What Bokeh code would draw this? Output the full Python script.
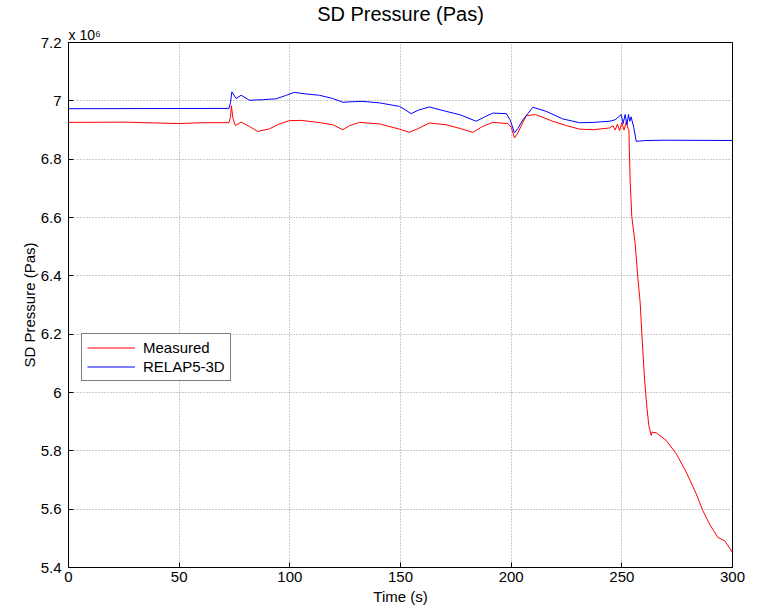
from bokeh.plotting import figure
from bokeh.models import Legend, LegendItem, CustomJSTickFormatter, FixedTicker, Title
from bokeh.embed import file_html
from bokeh.resources import INLINE

# Time (s)
blue_t = [0, 72.5, 73.2, 73.8, 75.7, 78, 81.8, 88, 93.8, 98, 102, 107, 113.4, 119.4, 124, 128, 133,
          140.5, 149.5, 152, 154.8, 158, 163, 170.6, 177, 184.2, 188, 191.7, 197.8, 199.5, 201.5, 203,
          205.3, 209.8, 215.8, 223.3, 230.9, 236.9, 244.4, 247, 248.5, 249.7, 250.6, 251.5, 252.3, 253,
          253.6, 254.2, 255.4, 256.5, 258, 261, 270, 300]
# RELAP5-3D pressure (x 10^6 Pa)
blue_v = [6.973, 6.974, 6.995, 7.031, 7.008, 7.019, 7.002, 7.004, 7.007, 7.018, 7.029, 7.024, 7.019,
          7.008, 6.995, 6.997, 6.998, 6.993, 6.981, 6.970, 6.956, 6.968, 6.979, 6.964, 6.952, 6.930,
          6.945, 6.958, 6.956, 6.935, 6.890, 6.905, 6.935, 6.978, 6.964, 6.938, 6.925, 6.926, 6.930,
          6.935, 6.945, 6.953, 6.922, 6.953, 6.918, 6.953, 6.930, 6.945, 6.908, 6.861, 6.862, 6.864,
          6.865, 6.864]

red_t = [0, 25, 50, 60, 72.5, 73.2, 73.6, 74.3, 75.4, 78, 81.8, 85.5, 90.8, 95, 99.8, 105, 111.9,
         119.4, 124, 127, 131.5, 140.5, 149.5, 154, 158, 163, 170.6, 177, 182.7, 187, 191.7, 198.5,
         200, 201.5, 203, 206.8, 211, 218.8, 225, 230.9, 236.9, 244.4, 246, 247, 248, 249, 250, 251,
         252, 252.8, 253.2, 253.4, 253.8, 254.5, 256, 257.2, 258.3, 259.2, 260.2, 261.3, 262.2, 263.3,
         263.6, 265.5, 270, 274.6, 279.1, 283.6, 286.6, 289.6, 293.4, 296.4, 300]
# Measured pressure (x 10^6 Pa)
red_v = [6.926, 6.927, 6.922, 6.925, 6.925, 6.945, 6.983, 6.940, 6.915, 6.927, 6.912, 6.895, 6.904,
         6.920, 6.932, 6.933, 6.927, 6.918, 6.901, 6.915, 6.926, 6.921, 6.903, 6.892, 6.905, 6.924,
         6.918, 6.905, 6.892, 6.912, 6.926, 6.922, 6.910, 6.873, 6.890, 6.949, 6.953, 6.930, 6.915,
         6.903, 6.901, 6.907, 6.915, 6.900, 6.920, 6.898, 6.925, 6.900, 6.928, 6.905, 6.900, 6.832,
         6.718, 6.603, 6.512, 6.397, 6.306, 6.179, 6.053, 5.950, 5.887, 5.853, 5.864, 5.862, 5.836,
         5.790, 5.727, 5.653, 5.595, 5.549, 5.503, 5.492, 5.452]

x_ticks = [0, 50, 100, 150, 200, 250, 300]
y_ticks = [5.4, 5.6, 5.8, 6.0, 6.2, 6.4, 6.6, 6.8, 7.0, 7.2]

FONT = "Liberation Sans"

p = figure(width=753, height=608, output_backend="svg", toolbar_location=None,
           x_range=(0, 300), y_range=(5.4, 7.2),
           title="SD Pressure (Pas)",
           min_border_left=68, min_border_right=21, min_border_top=42, min_border_bottom=41)

p.title.align = "center"
p.title.text_font = FONT
p.title.text_font_style = "normal"
p.title.text_font_size = "20px"
p.title.text_color = "black"
p.title.offset = 0
p.title.standoff = 0

# exponent note above the y axis
p.add_layout(Title(text="x 10\u2076", align="left", text_font=FONT, text_font_size="14px",
                   text_font_style="normal", text_color="black", offset=0, standoff=0), "above")

r_red = p.line(red_t, red_v, line_color="#ff0000", line_width=1)
r_blue = p.line(blue_t, blue_v, line_color="#0000ff", line_width=1)

p.xaxis.ticker = FixedTicker(ticks=x_ticks)
p.yaxis.ticker = FixedTicker(ticks=y_ticks)
p.yaxis.formatter = CustomJSTickFormatter(code="return parseFloat(tick.toFixed(4)).toString();")

for ax in (p.xaxis[0], p.yaxis[0]):
    ax.major_tick_in = 5
    ax.major_tick_out = 0
    ax.minor_tick_in = 0
    ax.minor_tick_out = 0
    ax.axis_line_color = "black"
    ax.major_tick_line_color = "black"
    ax.major_label_text_font = FONT
    ax.major_label_text_font_size = "15px"
    ax.major_label_text_color = "black"
    ax.axis_label_text_font = FONT
    ax.axis_label_text_font_size = "15px"
    ax.axis_label_text_font_style = "normal"
    ax.axis_label_text_color = "black"

p.xaxis.axis_label = "Time (s)"
p.yaxis.axis_label = "SD Pressure (Pas)"
p.xaxis.major_label_standoff = 4
p.xaxis.axis_label_standoff = 3
p.yaxis.major_label_standoff = 7
p.yaxis.axis_label_standoff = 0

p.xgrid.grid_line_color = "#999999"
p.ygrid.grid_line_color = "#999999"
p.xgrid.grid_line_dash = "1 2"
p.ygrid.grid_line_dash = "1 2"
p.xgrid.ticker = FixedTicker(ticks=x_ticks)
p.ygrid.ticker = FixedTicker(ticks=y_ticks)

p.outline_line_color = "black"
p.outline_line_width = 1
p.background_fill_color = "white"
p.border_fill_color = "white"

legend = Legend(items=[LegendItem(label="Measured", renderers=[r_red]),
                       LegendItem(label="RELAP5-3D", renderers=[r_blue])],
                location=(13, 186))
legend.label_text_font = FONT
legend.label_text_font_size = "15px"
legend.label_text_color = "black"
legend.border_line_color = "black"
legend.border_line_width = 1
legend.background_fill_color = "white"
legend.background_fill_alpha = 1
legend.padding = 5
legend.margin = 0
legend.spacing = 2
legend.glyph_width = 48
legend.glyph_height = 17
legend.label_height = 17
legend.label_standoff = 8
p.add_layout(legend)

open("out.html", "w").write(file_html(p, INLINE))
